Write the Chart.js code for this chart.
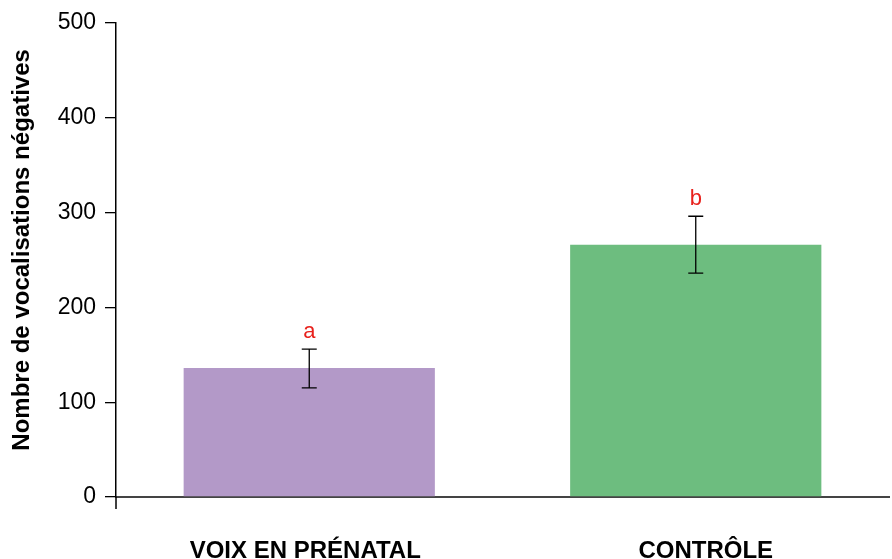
<!DOCTYPE html>
<html>
<head>
<meta charset="utf-8">
<script src="https://cdn.jsdelivr.net/npm/chart.js@4"></script>
<style>
  html, body { margin: 0; padding: 0; background: #fff; }
  #wrap { width: 892px; height: 559px; }
</style>
</head>
<body>
<div id="wrap"><canvas id="chart" width="892" height="559"></canvas></div>
<script>
// Data
const groups = ['VOIX EN PRÉNATAL', 'CONTRÔLE'];
const means = [136, 266];
const errLow = [115, 236];
const errHigh = [156, 296];
const letters = ['a', 'b'];
const barColors = ['#b399c8', '#6dbd7f'];
const yTicks = [0, 100, 200, 300, 400, 500];
const yTitle = 'Nombre de vocalisations négatives';

const FONT = '"Liberation Sans", Arial, sans-serif';
// category labels sit slightly off the bar centres in the original
const labelShift = [-4, 10];

// Error bars, letters, axis labels, drawn through the scales
const errorBarPlugin = {
    id: 'errorBars',
    afterDatasetsDraw(chart) {
        const ctx = chart.ctx;
        const x = chart.scales.x;
        const y = chart.scales.y;
        ctx.save();
        ctx.strokeStyle = '#000';
        ctx.lineWidth = 1.3;
        groups.forEach((g, i) => {
            const cx = x.getPixelForValue(i);
            const top = y.getPixelForValue(errHigh[i]);
            const bot = y.getPixelForValue(errLow[i]);
            const cap = 7.5;
            ctx.beginPath();
            ctx.moveTo(cx, top); ctx.lineTo(cx, bot);
            ctx.moveTo(cx - cap, top); ctx.lineTo(cx + cap, top);
            ctx.moveTo(cx - cap, bot); ctx.lineTo(cx + cap, bot);
            ctx.stroke();

            ctx.fillStyle = '#e8211c';
            ctx.font = '22px ' + FONT;
            ctx.textAlign = 'center';
            ctx.textBaseline = 'alphabetic';
            ctx.fillText(letters[i], cx, top - 11);

            // category label
            ctx.fillStyle = '#000';
            ctx.font = 'bold 24px ' + FONT;
            ctx.textBaseline = 'middle';
            ctx.fillText(g, cx + labelShift[i], x.top + 54);
        });

        // y title
        ctx.save();
        ctx.translate(22, (y.top + y.bottom) / 2 - 10);
        ctx.rotate(-Math.PI / 2);
        ctx.fillStyle = '#000';
        ctx.font = 'bold 24px ' + FONT;
        ctx.textAlign = 'center';
        ctx.textBaseline = 'middle';
        ctx.fillText(yTitle, 0, 0);
        ctx.restore();

        // y axis line runs a little below zero
        ctx.beginPath();
        ctx.strokeStyle = '#000';
        ctx.lineWidth = 1.5;
        ctx.moveTo(y.right, y.bottom);
        ctx.lineTo(y.right, y.bottom + 12);
        ctx.stroke();
        ctx.restore();
    }
};

const ctx = document.getElementById('chart').getContext('2d');
const chart = new Chart(ctx, {
    type: 'bar',
    data: {
        labels: groups,
        datasets: [{
            data: means,
            backgroundColor: barColors,
            borderWidth: 0,
            categoryPercentage: 1.0,
            barPercentage: 0.65
        }]
    },
    options: {
        responsive: false,
        animation: false,
        layout: { padding: { top: 21, right: 3, left: 0, bottom: 0 } },
        plugins: {
            legend: { display: false },
            tooltip: { enabled: false }
        },
        scales: {
            x: {
                grid: { display: false, drawTicks: false },
                border: { display: true, color: '#444', width: 2 },
                ticks: { display: false },
                afterFit(scale) { scale.height = 62; }
            },
            y: {
                min: 0,
                max: 500,
                afterBuildTicks(scale) { scale.ticks = yTicks.map(v => ({ value: v })); },
                grid: { drawOnChartArea: false, drawTicks: true, tickLength: 11, color: '#000', lineWidth: 1.3 },
                border: { display: true, color: '#000', width: 1.5 },
                ticks: {
                    color: '#000',
                    padding: 9,
                    font: { family: FONT, size: 23 }
                },
                title: { display: false },
                afterFit(scale) { scale.width = 116; }
            }
        }
    },
    plugins: [errorBarPlugin]
});
</script>
</body>
</html>
